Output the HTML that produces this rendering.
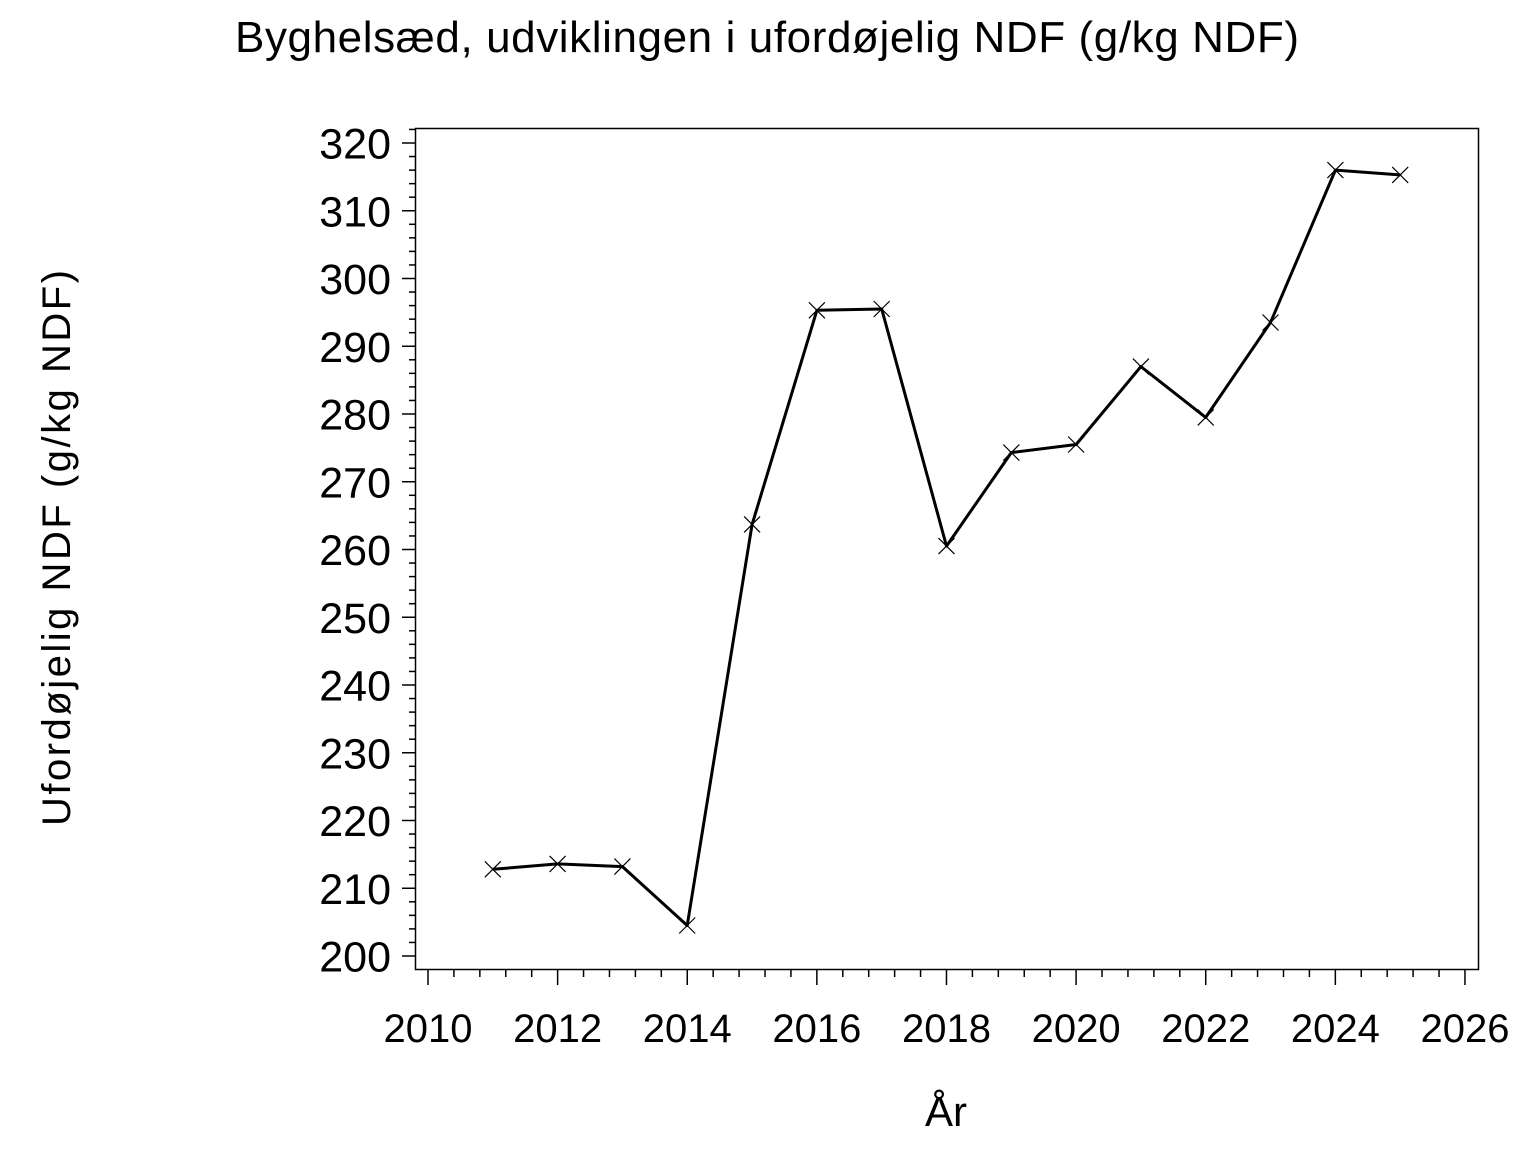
<!DOCTYPE html>
<html><head><meta charset="utf-8"><style>
html,body{margin:0;padding:0;background:#fff;}
svg{display:block;font-family:"Liberation Sans",sans-serif;}
</style></head><body>
<svg id="s" width="1536" height="1152" viewBox="0 0 1536 1152" xmlns="http://www.w3.org/2000/svg">
<rect width="1536" height="1152" fill="#fff"/>
<text x="767" y="52" font-size="44" text-anchor="middle" textLength="1064" lengthAdjust="spacing">Byghelsæd, udviklingen i ufordøjelig NDF (g/kg NDF)</text>
<rect x="415.5" y="128.5" width="1063" height="841" fill="none" stroke="#000" stroke-width="1.5"/>
<g id="ticks" stroke="#000" stroke-width="1.5"></g>
<g id="labels" font-size="40"></g>
<g id="ylabels" font-size="43"></g>
<text x="946" y="1126" font-size="42" text-anchor="middle">År</text>
<text transform="translate(70,548) rotate(-90)" font-size="40" text-anchor="middle" textLength="556" lengthAdjust="spacing">Ufordøjelig NDF (g/kg NDF)</text>
<polyline fill="none" stroke="#000" stroke-width="3" stroke-linejoin="round" points="492.8,869.3 557.6,863.9 622.4,866.6 687.2,925.5 752.1,524.4 816.9,310.3 881.7,309.0 946.5,546.1 1011.3,452.6 1076.1,444.5 1140.9,366.6 1205.7,417.4 1270.5,322.5 1335.4,170.1 1400.2,174.9"/>
<g id="marks" stroke="#000" stroke-width="1.2"></g>
</svg>
<script>
var NS="http://www.w3.org/2000/svg";
function el(p,t,a,txt){var e=document.createElementNS(NS,t);for(var k in a)e.setAttribute(k,a[k]);if(txt!=null)e.textContent=txt;document.getElementById(p).appendChild(e);}
function Y(v){return 956-(v-200)*6.775;}
function X(y){return 428+(y-2010)*64.81;}
for(var v=200;v<=322;v+=2){var y=Y(v);var maj=(v%10==0);
 el("ticks","line",{x1:maj?402:409,x2:415,y1:y,y2:y});
 if(maj)el("ylabels","text",{x:391,y:y+15.5,"text-anchor":"end"},String(v));}
for(var i=0;i<=40;i++){var yr=2010+i*0.4;var x=X(yr);var maj=(i%5==0);
 el("ticks","line",{x1:x,x2:x,y1:970,y2:maj?985:977});
 if(maj)el("labels","text",{x:x,y:1042,"text-anchor":"middle"},String(Math.round(yr)));}
var pts=[[492.8,869.3],[557.6,863.9],[622.4,866.6],[687.2,925.5],[752.1,524.4],[816.9,310.3],[881.7,309.0],[946.5,546.1],[1011.3,452.6],[1076.1,444.5],[1140.9,366.6],[1205.7,417.4],[1270.5,322.5],[1335.4,170.1],[1400.2,174.9]];
pts.forEach(function(p){var d=8;el("marks","line",{x1:p[0]-d,y1:p[1]-d,x2:p[0]+d,y2:p[1]+d});el("marks","line",{x1:p[0]-d,y1:p[1]+d,x2:p[0]+d,y2:p[1]-d});});
</script>
</body></html>
